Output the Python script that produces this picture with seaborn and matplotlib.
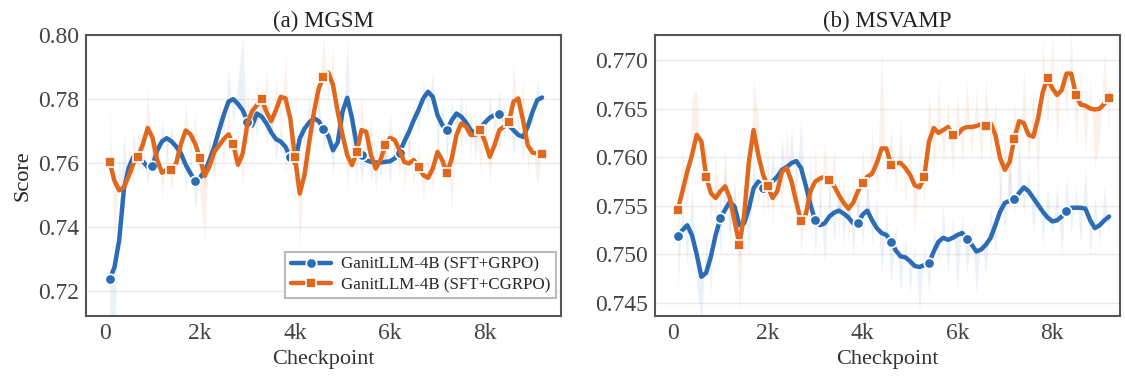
import matplotlib
matplotlib.use("Agg")
import matplotlib.pyplot as plt
from matplotlib.ticker import FuncFormatter, FixedLocator
import seaborn as sns

checkpoints = list(range(100, 9201, 100))

# (a) MGSM, smoothed curves
mgsm_grpo = [0.7238, 0.7275, 0.7360, 0.7520, 0.7585, 0.7620, 0.7620, 0.7605, 0.7588, 0.7590,
             0.7640, 0.7668, 0.7678, 0.7668, 0.7652, 0.7630, 0.7595, 0.7568, 0.7545, 0.7555,
             0.7575, 0.7610, 0.7650, 0.7702, 0.7750, 0.7792, 0.7800, 0.7785, 0.7765, 0.7730,
             0.7718, 0.7755, 0.7745, 0.7724, 0.7696, 0.7675, 0.7667, 0.7651, 0.7618, 0.7600,
             0.7677, 0.7708, 0.7727, 0.7740, 0.7731, 0.7708, 0.7685, 0.7640, 0.7665, 0.7760,
             0.7804, 0.7740, 0.7656, 0.7625, 0.7609, 0.7604, 0.7602, 0.7602, 0.7604, 0.7606,
             0.7615, 0.7633, 0.7667, 0.7698, 0.7734, 0.7766, 0.7802, 0.7823, 0.7807, 0.7750,
             0.7719, 0.7703, 0.7734, 0.7755, 0.7745, 0.7727, 0.7703, 0.7693, 0.7708, 0.7727,
             0.7742, 0.7750, 0.7755, 0.7740, 0.7719, 0.7703, 0.7688, 0.7682, 0.7714, 0.7760,
             0.7797, 0.7805]
mgsm_cgrpo = [0.7603, 0.7545, 0.7515, 0.7525, 0.7560, 0.7600, 0.7620, 0.7660, 0.7710, 0.7680,
              0.7610, 0.7570, 0.7580, 0.7580, 0.7600, 0.7660, 0.7702, 0.7690, 0.7660, 0.7616,
              0.7560, 0.7590, 0.7635, 0.7655, 0.7675, 0.7690, 0.7660, 0.7595, 0.7630, 0.7725,
              0.7763, 0.7781, 0.7800, 0.7760, 0.7731, 0.7766, 0.7807, 0.7802, 0.7740, 0.7620,
              0.7505, 0.7563, 0.7667, 0.7760, 0.7833, 0.7870, 0.7883, 0.7844, 0.7760, 0.7688,
              0.7625, 0.7594, 0.7635, 0.7703, 0.7698, 0.7625, 0.7583, 0.7610, 0.7656, 0.7679,
              0.7672, 0.7641, 0.7604, 0.7599, 0.7610, 0.7589, 0.7563, 0.7554, 0.7583, 0.7635,
              0.7609, 0.7568, 0.7615, 0.7688, 0.7724, 0.7714, 0.7688, 0.7688, 0.7703, 0.7667,
              0.7620, 0.7656, 0.7703, 0.7714, 0.7727, 0.7792, 0.7802, 0.7734, 0.7656, 0.7633,
              0.7630, 0.7630]
# (a) MGSM, raw per-checkpoint scores (faint band)
mgsm_grpo_raw = [0.712, 0.705, 0.745, 0.769, 0.752, 0.770, 0.757, 0.765, 0.753, 0.768,
                 0.757, 0.774, 0.762, 0.772, 0.761, 0.769, 0.751, 0.764, 0.745, 0.761,
                 0.752, 0.768, 0.757, 0.778, 0.766, 0.790, 0.772, 0.786, 0.800, 0.766,
                 0.778, 0.768, 0.784, 0.765, 0.776, 0.760, 0.772, 0.757, 0.770, 0.752,
                 0.772, 0.764, 0.781, 0.767, 0.781, 0.764, 0.772, 0.756, 0.775, 0.770,
                 0.798, 0.764, 0.770, 0.753, 0.767, 0.754, 0.766, 0.755, 0.766, 0.753,
                 0.769, 0.756, 0.772, 0.762, 0.779, 0.769, 0.786, 0.775, 0.789, 0.766,
                 0.779, 0.762, 0.780, 0.768, 0.782, 0.766, 0.776, 0.760, 0.776, 0.765,
                 0.782, 0.768, 0.783, 0.767, 0.779, 0.762, 0.775, 0.760, 0.778, 0.770,
                 0.786, 0.776]
mgsm_cgrpo_raw = [0.779, 0.736, 0.762, 0.744, 0.765, 0.752, 0.771, 0.757, 0.784, 0.758,
                  0.770, 0.749, 0.766, 0.751, 0.767, 0.758, 0.780, 0.762, 0.776, 0.750,
                  0.736, 0.768, 0.754, 0.773, 0.759, 0.779, 0.758, 0.770, 0.752, 0.784,
                  0.766, 0.786, 0.772, 0.790, 0.765, 0.787, 0.770, 0.794, 0.762, 0.770,
                  0.733, 0.765, 0.757, 0.785, 0.775, 0.800, 0.779, 0.796, 0.766, 0.778,
                  0.752, 0.767, 0.752, 0.781, 0.762, 0.775, 0.750, 0.769, 0.756, 0.776,
                  0.760, 0.772, 0.752, 0.768, 0.753, 0.766, 0.748, 0.763, 0.750, 0.771,
                  0.755, 0.766, 0.745, 0.776, 0.764, 0.780, 0.762, 0.776, 0.757, 0.775,
                  0.754, 0.770, 0.763, 0.779, 0.766, 0.791, 0.772, 0.786, 0.757, 0.768,
                  0.752, 0.766]

# (b) MSVAMP, smoothed curves
msvamp_grpo = [0.7519, 0.7525, 0.7530, 0.7520, 0.7500, 0.7477, 0.7481, 0.7498, 0.7520, 0.7537,
               0.7546, 0.7554, 0.7549, 0.7530, 0.7532, 0.7547, 0.7568, 0.7575, 0.7568, 0.7570,
               0.7575, 0.7580, 0.7587, 0.7590, 0.7594, 0.7596, 0.7589, 0.7571, 0.7551, 0.7535,
               0.7530, 0.7532, 0.7539, 0.7543, 0.7545, 0.7542, 0.7538, 0.7532, 0.7532, 0.7541,
               0.7545, 0.7535, 0.7527, 0.7522, 0.7520, 0.7513, 0.7504, 0.7498, 0.7497, 0.7493,
               0.7488, 0.7487, 0.7489, 0.7491, 0.7503, 0.7513, 0.7517, 0.7515, 0.7517, 0.7520,
               0.7522, 0.7516, 0.7510, 0.7503, 0.7505, 0.7510, 0.7517, 0.7530, 0.7544, 0.7553,
               0.7555, 0.7557, 0.7563, 0.7569, 0.7565, 0.7558, 0.7551, 0.7544, 0.7538, 0.7534,
               0.7535, 0.7539, 0.7545, 0.7548, 0.7548, 0.7548, 0.7547, 0.7535, 0.7527, 0.7530,
               0.7535, 0.7539]
msvamp_cgrpo = [0.7546, 0.7565, 0.7585, 0.7602, 0.7623, 0.7616, 0.7580, 0.7563, 0.7558, 0.7565,
                0.7570, 0.7558, 0.7534, 0.7510, 0.7540, 0.7595, 0.7628, 0.7602, 0.7582, 0.7570,
                0.7558, 0.7565, 0.7585, 0.7589, 0.7575, 0.7554, 0.7534, 0.7541, 0.7565, 0.7575,
                0.7578, 0.7580, 0.7577, 0.7570, 0.7561, 0.7553, 0.7547, 0.7553, 0.7565, 0.7573,
                0.7580, 0.7583, 0.7594, 0.7609, 0.7609, 0.7592, 0.7594, 0.7594, 0.7589, 0.7582,
                0.7571, 0.7569, 0.7580, 0.7616, 0.7630, 0.7625, 0.7628, 0.7631, 0.7623, 0.7623,
                0.7629, 0.7631, 0.7631, 0.7632, 0.7634, 0.7632, 0.7635, 0.7623, 0.7599, 0.7587,
                0.7595, 0.7619, 0.7637, 0.7635, 0.7623, 0.7621, 0.7640, 0.7667, 0.7681, 0.7671,
                0.7664, 0.7669, 0.7686, 0.7686, 0.7664, 0.7654, 0.7653, 0.7650, 0.7649, 0.7650,
                0.7655, 0.7661]
msvamp_grpo_raw = [0.746, 0.755, 0.749, 0.757, 0.747, 0.743, 0.752, 0.746, 0.756, 0.750,
                   0.759, 0.751, 0.758, 0.749, 0.756, 0.750, 0.760, 0.755, 0.759, 0.754,
                   0.761, 0.756, 0.762, 0.757, 0.763, 0.757, 0.764, 0.754, 0.760, 0.750,
                   0.756, 0.749, 0.757, 0.751, 0.758, 0.751, 0.757, 0.750, 0.756, 0.751,
                   0.758, 0.751, 0.756, 0.748, 0.755, 0.747, 0.753, 0.746, 0.752, 0.746,
                   0.751, 0.744, 0.751, 0.746, 0.753, 0.749, 0.755, 0.748, 0.754, 0.746,
                   0.754, 0.748, 0.753, 0.746, 0.752, 0.748, 0.755, 0.750, 0.758, 0.752,
                   0.760, 0.754, 0.761, 0.754, 0.759, 0.752, 0.758, 0.751, 0.757, 0.752,
                   0.757, 0.750, 0.758, 0.752, 0.757, 0.751, 0.759, 0.750, 0.756, 0.751,
                   0.757, 0.752]
msvamp_cgrpo_raw = [0.750, 0.761, 0.754, 0.766, 0.767, 0.758, 0.762, 0.753, 0.760, 0.754,
                    0.761, 0.752, 0.757, 0.744, 0.757, 0.755, 0.768, 0.764, 0.754, 0.761,
                    0.753, 0.760, 0.754, 0.763, 0.755, 0.759, 0.750, 0.757, 0.752, 0.761,
                    0.754, 0.762, 0.755, 0.761, 0.752, 0.758, 0.751, 0.758, 0.753, 0.761,
                    0.755, 0.763, 0.756, 0.771, 0.757, 0.763, 0.756, 0.764, 0.755, 0.762,
                    0.752, 0.760, 0.755, 0.767, 0.758, 0.768, 0.759, 0.766, 0.758, 0.767,
                    0.759, 0.768, 0.760, 0.767, 0.759, 0.768, 0.760, 0.766, 0.755, 0.763,
                    0.754, 0.766, 0.759, 0.769, 0.759, 0.767, 0.757, 0.772, 0.763, 0.773,
                    0.761, 0.770, 0.764, 0.773, 0.761, 0.769, 0.760, 0.768, 0.759, 0.762,
                    0.771, 0.762]

labels = ["GanitLLM-4B (SFT+GRPO)", "GanitLLM-4B (SFT+CGRPO)"]
grpo_marks = [0, 9, 18, 29, 38, 45, 53, 61, 71, 82]
cgrpo_marks = [0, 6, 13, 19, 26, 32, 39, 45, 52, 58, 65, 71, 78, 84, 91]

BLUE = "#2b6cb5"
ORANGE = "#e0681d"

sns.set_theme(style="whitegrid")
plt.rcParams["font.family"] = ["Liberation Serif", "DejaVu Serif"]
plt.rcParams["axes.edgecolor"] = "#555555"
plt.rcParams["axes.linewidth"] = 1.5
plt.rcParams["grid.color"] = "#ebebeb"
plt.rcParams["xtick.color"] = "#444444"
plt.rcParams["ytick.color"] = "#444444"

fig = plt.figure(figsize=(11.25, 3.8), dpi=100)
ax_a = fig.add_axes([0.0764, 0.1684, 0.4223, 0.7395])
ax_b = fig.add_axes([0.5822, 0.1684, 0.4134, 0.7395])

panels = [
    (ax_a, "(a) MGSM", mgsm_grpo, mgsm_cgrpo, mgsm_grpo_raw, mgsm_cgrpo_raw,
     (-400, 9600), (0.7123, 0.800), [0.72, 0.74, 0.76, 0.78, 0.80], "{:.2f}"),
    (ax_b, "(b) MSVAMP", msvamp_grpo, msvamp_cgrpo, msvamp_grpo_raw, msvamp_cgrpo_raw,
     (-380, 9430), (0.74366, 0.77257), [0.745, 0.750, 0.755, 0.760, 0.765, 0.770], "{:.3f}"),
]

for i, (ax, title, grpo, cgrpo, grpo_raw, cgrpo_raw, xlim, ylim, yticks, yfmt) in enumerate(panels):
    ax.fill_between(checkpoints, grpo, grpo_raw, color=BLUE, alpha=0.09, lw=0)
    ax.fill_between(checkpoints, cgrpo, cgrpo_raw, color=ORANGE, alpha=0.09, lw=0)
    sns.lineplot(x=checkpoints, y=grpo, ax=ax, color=BLUE, lw=3.2, marker="o", ms=7.5,
                 mec="white", mew=1.2, markevery=grpo_marks,
                 label=labels[0] if i == 0 else None, legend=i == 0)
    sns.lineplot(x=checkpoints, y=cgrpo, ax=ax, color=ORANGE, lw=3.2, marker="s", ms=7.5,
                 mec="white", mew=1.2, markevery=cgrpo_marks,
                 label=labels[1] if i == 0 else None, legend=i == 0)
    ax.set_xlim(*xlim)
    ax.set_ylim(*ylim)
    ax.xaxis.set_major_locator(FixedLocator([0, 2000, 4000, 6000, 8000]))
    ax.xaxis.set_major_formatter(FuncFormatter(lambda v, p: "0" if v == 0 else f"{int(v / 1000)}k"))
    ax.yaxis.set_major_locator(FixedLocator(yticks))
    ax.yaxis.set_major_formatter(FuncFormatter(lambda v, p, f=yfmt: f.format(v)))
    ax.grid(axis="x", visible=False)
    ax.grid(axis="y", lw=1.0)
    ax.tick_params(labelsize=17, length=0, pad=5)
    ax.set_title(title, fontsize=16.5, pad=6, color="#222222")
    ax.set_xlabel("Checkpoint", fontsize=16, color="#333333", labelpad=4)
    ax.set_ylabel("Score" if i == 0 else "", fontsize=16, color="#222222")
    for s in ax.spines.values():
        s.set_visible(True)
        s.set_color("#555555")
        s.set_linewidth(1.5)

leg = ax_a.legend(loc="lower right", bbox_to_anchor=(0.989, 0.064), borderaxespad=0,
                  fontsize=12.2, frameon=True, fancybox=False, edgecolor="#bbbbbb",
                  framealpha=1, handlelength=2.4, borderpad=0.3, labelspacing=0.25,
                  handletextpad=0.6)
leg.get_frame().set_linewidth(1.5)

plt.savefig("out.png", dpi=100)
